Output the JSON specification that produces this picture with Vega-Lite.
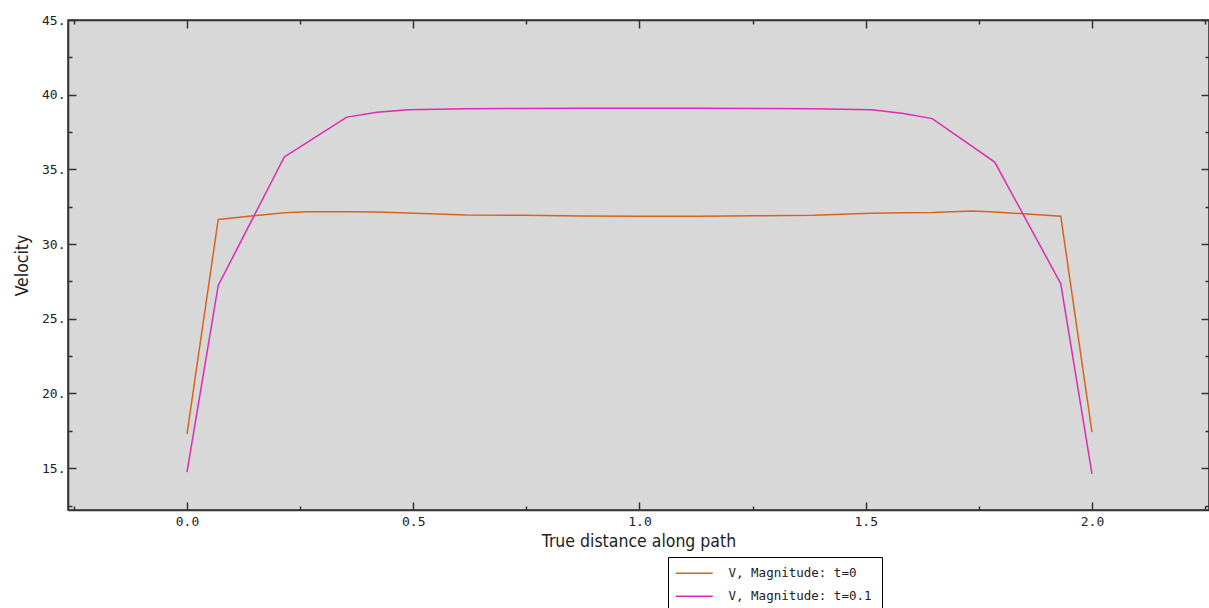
{
  "$schema": "https://vega.github.io/schema/vega-lite/v6.json",
  "autosize": "none",
  "padding": {"left": 68, "top": 20, "right": 0, "bottom": 98},
  "width": 1141,
  "height": 490,
  "background": "#ffffff",
  "config": {
    "view": {"fill": "#d8d8d8", "stroke": "#333333", "strokeWidth": 1.5},
    "axis": {
      "domainColor": "#333333",
      "domainWidth": 1.5,
      "tickColor": "#333333",
      "tickWidth": 1.5,
      "labelColor": "#222222",
      "labelFont": "DejaVu Sans Mono",
      "labelFontSize": 13,
      "titleFont": "DejaVu Sans Condensed",
      "titleFontSize": 17.5,
      "titleFontWeight": "normal",
      "titleColor": "#222222",
      "grid": false
    }
  },
  "data": {
    "values": [
      {"d": 0.0, "v": 17.3, "s": "V, Magnitude: t=0"},
      {"d": 0.069, "v": 31.65, "s": "V, Magnitude: t=0"},
      {"d": 0.215, "v": 32.1, "s": "V, Magnitude: t=0"},
      {"d": 0.264, "v": 32.16, "s": "V, Magnitude: t=0"},
      {"d": 0.353, "v": 32.16, "s": "V, Magnitude: t=0"},
      {"d": 0.42, "v": 32.14, "s": "V, Magnitude: t=0"},
      {"d": 0.488, "v": 32.08, "s": "V, Magnitude: t=0"},
      {"d": 0.616, "v": 31.95, "s": "V, Magnitude: t=0"},
      {"d": 0.744, "v": 31.93, "s": "V, Magnitude: t=0"},
      {"d": 0.872, "v": 31.88, "s": "V, Magnitude: t=0"},
      {"d": 1.0, "v": 31.87, "s": "V, Magnitude: t=0"},
      {"d": 1.128, "v": 31.87, "s": "V, Magnitude: t=0"},
      {"d": 1.256, "v": 31.9, "s": "V, Magnitude: t=0"},
      {"d": 1.384, "v": 31.93, "s": "V, Magnitude: t=0"},
      {"d": 1.512, "v": 32.06, "s": "V, Magnitude: t=0"},
      {"d": 1.58, "v": 32.1, "s": "V, Magnitude: t=0"},
      {"d": 1.647, "v": 32.12, "s": "V, Magnitude: t=0"},
      {"d": 1.736, "v": 32.21, "s": "V, Magnitude: t=0"},
      {"d": 1.785, "v": 32.15, "s": "V, Magnitude: t=0"},
      {"d": 1.931, "v": 31.87, "s": "V, Magnitude: t=0"},
      {"d": 2.0, "v": 17.41, "s": "V, Magnitude: t=0"},
      {"d": 0.0, "v": 14.73, "s": "V, Magnitude: t=0.1"},
      {"d": 0.069, "v": 27.23, "s": "V, Magnitude: t=0.1"},
      {"d": 0.215, "v": 35.83, "s": "V, Magnitude: t=0.1"},
      {"d": 0.264, "v": 36.78, "s": "V, Magnitude: t=0.1"},
      {"d": 0.353, "v": 38.5, "s": "V, Magnitude: t=0.1"},
      {"d": 0.42, "v": 38.82, "s": "V, Magnitude: t=0.1"},
      {"d": 0.488, "v": 39.0, "s": "V, Magnitude: t=0.1"},
      {"d": 0.616, "v": 39.06, "s": "V, Magnitude: t=0.1"},
      {"d": 0.744, "v": 39.08, "s": "V, Magnitude: t=0.1"},
      {"d": 0.872, "v": 39.09, "s": "V, Magnitude: t=0.1"},
      {"d": 1.0, "v": 39.09, "s": "V, Magnitude: t=0.1"},
      {"d": 1.128, "v": 39.09, "s": "V, Magnitude: t=0.1"},
      {"d": 1.256, "v": 39.08, "s": "V, Magnitude: t=0.1"},
      {"d": 1.384, "v": 39.06, "s": "V, Magnitude: t=0.1"},
      {"d": 1.512, "v": 38.99, "s": "V, Magnitude: t=0.1"},
      {"d": 1.58, "v": 38.76, "s": "V, Magnitude: t=0.1"},
      {"d": 1.647, "v": 38.4, "s": "V, Magnitude: t=0.1"},
      {"d": 1.736, "v": 36.52, "s": "V, Magnitude: t=0.1"},
      {"d": 1.785, "v": 35.49, "s": "V, Magnitude: t=0.1"},
      {"d": 1.931, "v": 27.35, "s": "V, Magnitude: t=0.1"},
      {"d": 2.0, "v": 14.62, "s": "V, Magnitude: t=0.1"}
    ]
  },
  "layer": [
    {
      "mark": {"type": "line", "strokeWidth": 1.5, "clip": true},
      "encoding": {
        "x": {
          "field": "d", "type": "quantitative",
          "scale": {"domain": [-0.263, 2.2586], "nice": false, "zero": false},
          "axis": {
            "orient": "bottom",
            "title": "True distance along path",
            "titlePadding": 4,
            "values": [-0.25, 0, 0.25, 0.5, 0.75, 1, 1.25, 1.5, 1.75, 2, 2.25],
            "labelExpr": "abs(datum.value*2 - round(datum.value*2)) < 0.000001 ? format(datum.value, '.1f') : ''",
            "tickSize": {"condition": {"test": "abs(datum.value*2 - round(datum.value*2)) < 0.000001", "value": -8}, "value": -4},
            "labelPadding": 13
          }
        },
        "y": {
          "field": "v", "type": "quantitative",
          "scale": {"domain": [12.2, 45], "nice": false, "zero": false},
          "axis": {
            "orient": "left",
            "title": "Velocity",
            "titlePadding": 10,
            "values": [12.5, 15, 17.5, 20, 22.5, 25, 27.5, 30, 32.5, 35, 37.5, 40, 42.5, 45],
            "labelExpr": "datum.value % 5 === 0 ? format(datum.value, 'd') + '.' : ''",
            "tickSize": {"condition": {"test": "datum.value % 5 === 0", "value": -8}, "value": -4},
            "labelPadding": 11
          }
        },
        "color": {
          "field": "s", "type": "nominal",
          "scale": {"domain": ["V, Magnitude: t=0", "V, Magnitude: t=0.1"], "range": ["#d9631e", "#dc2bb5"]},
          "legend": {
            "title": null,
            "orient": "none",
            "legendX": 600,
            "legendY": 537,
            "fillColor": "#ffffff",
            "strokeColor": "#000000",
            "padding": 10,
            "symbolType": "M-3.7,0H3.7",
            "symbolSize": 100,
            "symbolStrokeWidth": 1.5,
            "symbolOffset": 10,
            "labelOffset": 28,
            "labelFont": "DejaVu Sans Mono",
            "labelFontSize": 12.5,
            "labelColor": "#222222",
            "rowPadding": 10
          }
        }
      }
    },
    {
      "mark": {"type": "line", "opacity": 0},
      "encoding": {
        "x": {
          "field": "d", "type": "quantitative",
          "axis": {
            "orient": "top",
            "title": null,
            "labels": false,
            "values": [-0.25, 0, 0.25, 0.5, 0.75, 1, 1.25, 1.5, 1.75, 2, 2.25],
            "tickSize": {"condition": {"test": "abs(datum.value*2 - round(datum.value*2)) < 0.000001", "value": -8}, "value": -4}
          }
        },
        "y": {
          "field": "v", "type": "quantitative",
          "axis": {
            "orient": "right",
            "title": null,
            "labels": false,
            "values": [12.5, 15, 17.5, 20, 22.5, 25, 27.5, 30, 32.5, 35, 37.5, 40, 42.5, 45],
            "tickSize": {"condition": {"test": "datum.value % 5 === 0", "value": -8}, "value": -4}
          }
        },
        "detail": {"field": "s", "type": "nominal"}
      }
    }
  ],
  "resolve": {"axis": {"x": "independent", "y": "independent"}}
}
